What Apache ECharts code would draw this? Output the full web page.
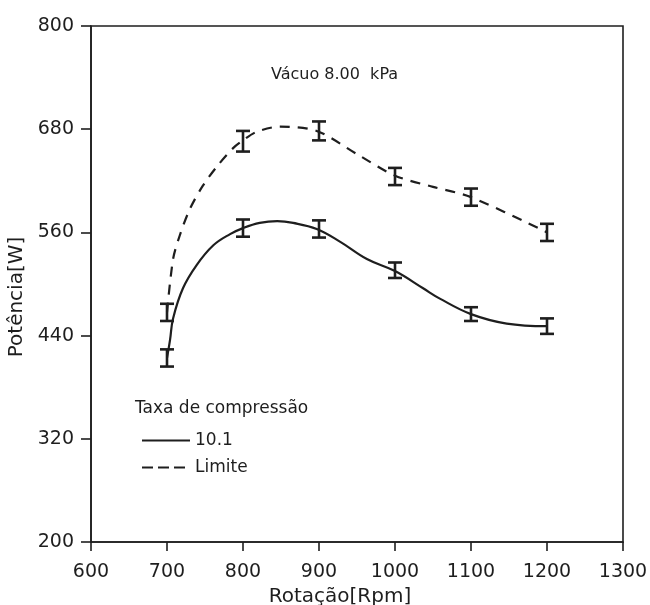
<!DOCTYPE html>
<html>
<head>
<meta charset="utf-8">
<script src="https://cdn.jsdelivr.net/npm/echarts@6/dist/echarts.min.js"></script>
<style>html,body{margin:0;padding:0;background:#fff;}#c{width:650px;height:605px;}</style>
</head>
<body>
<div id="c"></div>
<script>
// Axis ticks
var xTicks = [600, 700, 800, 900, 1000, 1100, 1200, 1300];
var yTicks = [200, 320, 440, 560, 680, 800];

// Measured points (rpm, W) with error half-widths
var rpm = [700, 800, 900, 1000, 1100, 1200];
var pot101 = [414, 565, 564, 516, 465, 451];
var err101 = [10, 10, 10, 9, 8, 9];
var potLimite = [467, 666, 678, 625, 601, 560];
var errLimite = [10, 12, 11, 10, 10, 10];

// Fitted curves (rpm, W)
var curve101 = [[700,414],[704,435],[708,460],[721,495],[739,522],[761,545],[783,558],[800,565],[822,571],[845,573],[866,571],[897,564],[928,549],[963,529],[1000,515],[1037,495],[1059,483],[1100,465],[1147,454],[1200,451]];
var curveLimite = [[700,467],[708,529],[717,557],[730,587],[747,614],[766,637],[787,658],[800,667],[818,677],[849,683],[897,678],[950,651],[1000,626],[1050,613],[1100,601],[1200,560]];

var INK = '#1e1e1e';
var FONT = 'DejaVu Sans';

function errData(vals, errs) {
  return rpm.map(function (x, i) { return [x, vals[i] - errs[i], vals[i] + errs[i]]; });
}
function renderErr(params, api) {
  var x = api.value(0);
  var lo = api.coord([x, api.value(1)]);
  var hi = api.coord([x, api.value(2)]);
  var w = 7;
  var st = { stroke: INK, lineWidth: 2.6 };
  return {
    type: 'group',
    children: [
      { type: 'line', shape: { x1: lo[0], y1: lo[1], x2: hi[0], y2: hi[1] }, style: st },
      { type: 'line', shape: { x1: lo[0] - w, y1: lo[1], x2: lo[0] + w, y2: lo[1] }, style: st },
      { type: 'line', shape: { x1: hi[0] - w, y1: hi[1], x2: hi[0] + w, y2: hi[1] }, style: st }
    ]
  };
}

var chart = echarts.init(document.getElementById('c'), null, { renderer: 'canvas' });
chart.setOption({
  backgroundColor: '#fff',
  animation: false,
  textStyle: { fontFamily: FONT, color: INK },
  title: {
    text: 'Vácuo 8.00  kPa',
    left: 266, top: 62,
    textStyle: { fontFamily: FONT, fontSize: 16, fontWeight: 'normal', color: INK }
  },
  graphic: [{
    type: 'text', left: 135, top: 400,
    style: { text: 'Taxa de compressão', font: '17px "DejaVu Sans"', fill: INK }
  }],
  legend: {
    orient: 'vertical', left: 136, top: 427, itemGap: 10,
    itemWidth: 48, itemHeight: 14,
    itemStyle: { opacity: 0 },
    textStyle: { fontFamily: FONT, fontSize: 17, color: INK },
    data: [
      { name: '10.1', lineStyle: { type: 'solid', width: 2 } },
      { name: 'Limite', lineStyle: { type: [11, 5], width: 2 } }
    ]
  },
  grid: { left: 91, right: 27, top: 26, bottom: 63, outerBoundsMode: 'none', containLabel: false, show: true, borderColor: INK, borderWidth: 1.6, backgroundColor: 'transparent' },
  xAxis: {
    type: 'value', min: xTicks[0], max: xTicks[xTicks.length - 1], interval: 100,
    name: 'Rotação[Rpm]', nameLocation: 'middle', nameGap: 43,
    nameTextStyle: { fontFamily: FONT, fontSize: 20, color: INK, padding: [0, 34, 0, 0] },
    axisLine: { show: true, lineStyle: { color: INK, width: 1.6 } },
    axisTick: { show: true, length: 9, lineStyle: { color: INK, width: 1.6 } },
    axisLabel: { fontFamily: FONT, fontSize: 19, color: INK, margin: 21, formatter: function (v) { return String(v); } },
    splitLine: { show: false }
  },
  yAxis: {
    type: 'value', min: yTicks[0], max: yTicks[yTicks.length - 1], interval: 120,
    name: 'Potência[W]', nameLocation: 'middle', nameGap: 60,
    nameTextStyle: { fontFamily: FONT, fontSize: 20, color: INK, padding: [0, 26, 0, 0] },
    axisLine: { show: true, lineStyle: { color: INK, width: 1.6 } },
    axisTick: { show: true, length: 10, lineStyle: { color: INK, width: 1.6 } },
    axisLabel: { fontFamily: FONT, fontSize: 19, color: INK, margin: 17, formatter: function (v) { return String(v); } },
    splitLine: { show: false }
  },
  series: [
    {
      name: '10.1', type: 'line', data: curve101, smooth: 0.4, symbol: 'none',
      lineStyle: { color: INK, width: 2.2, type: 'solid' }, itemStyle: { color: INK }
    },
    {
      name: 'Limite', type: 'line', data: curveLimite, smooth: 0.3, symbol: 'none',
      lineStyle: { color: INK, width: 2.2, type: [10, 8] }, itemStyle: { color: INK }
    },
    {
      name: 'err101', type: 'custom', renderItem: renderErr, data: errData(pot101, err101),
      encode: { x: 0, y: [1, 2] }, z: 5
    },
    {
      name: 'errLimite', type: 'custom', renderItem: renderErr, data: errData(potLimite, errLimite),
      encode: { x: 0, y: [1, 2] }, z: 5
    }
  ]
});
</script>
</body>
</html>
